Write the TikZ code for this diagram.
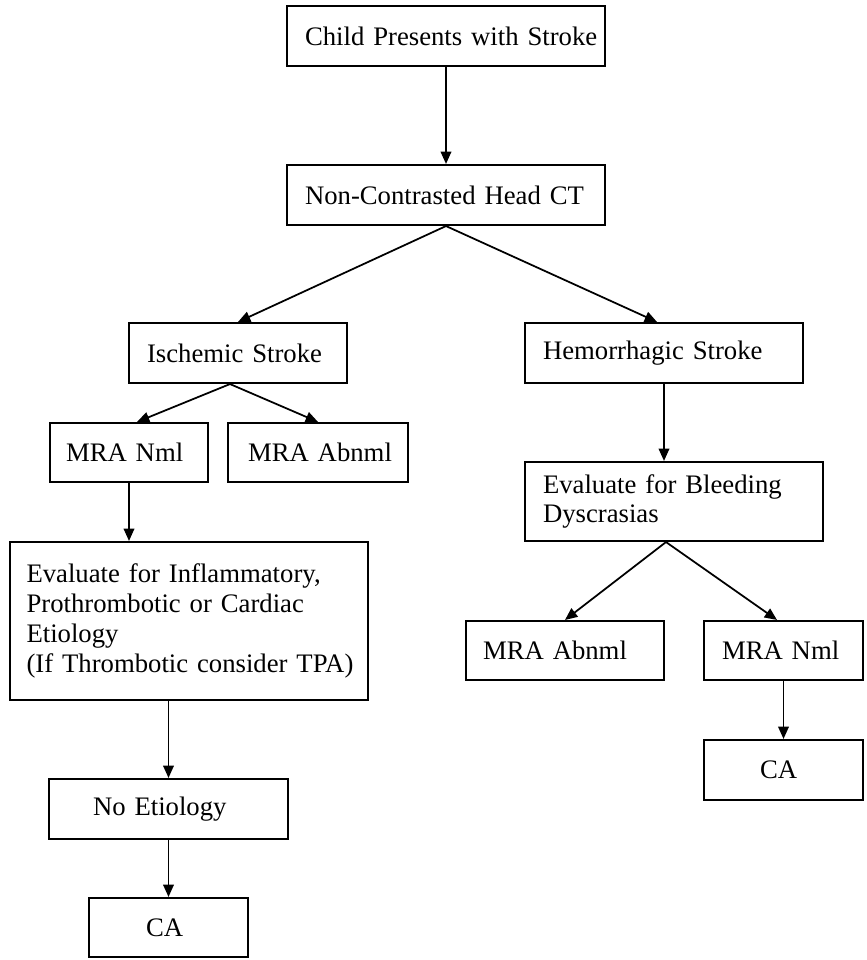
\documentclass[tikz,border=0pt]{standalone}
\usepackage{fontspec}
\setmainfont{Liberation Serif}
\usetikzlibrary{arrows.meta}

\tikzset{
  caja/.style={draw, line width=1.2pt, minimum height=1.2cm, align=left,
    inner ysep=0pt, font=\fontsize{15.2}{17}\selectfont},
  flecha/.style={-{Triangle[length=7pt,width=6pt]}, line width=1pt}
}

\begin{document}
\begin{tikzpicture}[x=0.02cm, y=-0.02cm]
      % Marco de la figura
      \useasboundingbox (0,0) rectangle (866,960);

      % Cajas de arriba
      \node[caja, text width=5.64cm, inner xsep=0.36cm] (child) at (446,36) {\mbox{Child Presents with Stroke}};
      \node[caja, text width=5.64cm, inner xsep=0.36cm] (ct) at (446,195) {\mbox{Non-Contrasted Head CT}};

      % Rama izquierda: isquemico
      \node[caja, text width=3.64cm, inner xsep=0.36cm] (isch) at (238,353) {\mbox{Ischemic Stroke}};
      \node[caja, text width=2.52cm, inner xsep=0.32cm, minimum height=1.18cm] (nmlL) at (129,452.5) {\mbox{MRA Nml}};
      \node[caja, text width=2.8cm, inner xsep=0.40cm, minimum height=1.18cm] (abnL) at (318,452.5) {\mbox{MRA Abnml}};
      \node[caja, text width=6.5cm, inner xsep=0.33cm, minimum height=3.16cm] (infl) at (189,621)
        {\mbox{Evaluate for Inflammatory,}\\ \mbox{Prothrombotic or Cardiac}\\ \mbox{Etiology}\\
         \mbox{(If Thrombotic consider TPA)}};
      \node[caja, text width=3.02cm, inner xsep=0.88cm] (noet) at (168.5,809) {\mbox{No Etiology}};
      \node[caja, text width=0.9cm, inner xsep=1.14cm, minimum height=1.18cm] (caL) at (168.5,927.5) {\mbox{CA}};

      % Rama derecha: hemorragico
      \node[caja, text width=4.84cm, inner xsep=0.36cm] (hem) at (664,353) {\mbox{Hemorrhagic Stroke}};
      \node[caja, text width=5.24cm, inner xsep=0.36cm, minimum height=1.58cm] (bleed) at (674,501.5)
        {\mbox{Evaluate for Bleeding}\\ \mbox{Dyscrasias}};
      \node[caja, text width=3.28cm, inner xsep=0.34cm, minimum height=1.18cm] (abnR) at (565,650.5) {\mbox{MRA Abnml}};
      \node[caja, text width=2.46cm, inner xsep=0.36cm, minimum height=1.18cm] (nmlR) at (783.5,650.5) {\mbox{MRA Nml}};
      \node[caja, text width=0.94cm, inner xsep=1.12cm] (caR) at (783.5,770) {\mbox{CA}};

      % Flechas
      \draw[flecha] (child) -- (ct);
      \draw[flecha] (ct.south) -- (isch.north);
      \draw[flecha] (ct.south) -- ([xshift=-0.14cm]hem.north);
      \draw[flecha] ([xshift=-0.16cm]isch.south) -- ([xshift=0.16cm]nmlL.north);
      \draw[flecha] ([xshift=-0.16cm]isch.south) -- (abnL.north);
      \draw[flecha] (nmlL.south) -- (nmlL.south |- infl.north);
      \draw[flecha] (infl.south -| noet.north) -- (noet.north);
      \draw[flecha] (noet) -- (caL);
      \draw[flecha] (hem.south) -- (hem.south |- bleed.north);
      \draw[flecha] ([xshift=-0.16cm]bleed.south) -- (abnR.north);
      \draw[flecha] ([xshift=-0.16cm]bleed.south) -- ([xshift=-0.13cm]nmlR.north);
      \draw[flecha] (nmlR) -- (caR);
    \end{tikzpicture}
\end{document}
